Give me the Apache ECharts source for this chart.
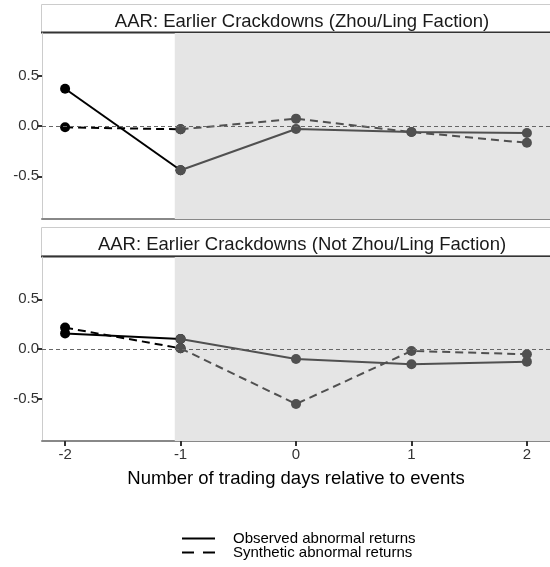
<!DOCTYPE html>
<html>
<head>
<meta charset="utf-8">
<title>AAR earlier crackdowns</title>
<script src="https://cdn.jsdelivr.net/npm/echarts@6/dist/echarts.min.js"></script>
<style>
  html, body { margin: 0; padding: 0; background: #fff; }
  #main { width: 550px; height: 567px; }
</style>
</head>
<body>
<div id="main"></div>
<script>
// days relative to event
var days = [-2, -1, 0, 1, 2];
var xTicks = [-2, -1, 0, 1, 2];
var yTicks = [-0.5, 0, 0.5];
var panelTitles = ['AAR: Earlier Crackdowns (Zhou/Ling Faction)', 'AAR: Earlier Crackdowns (Not Zhou/Ling Faction)'];

// panel 1: Zhou/Ling faction
var obsZhou = [0.37, -0.44, -0.03, -0.06, -0.07];
var synZhou = [-0.013, -0.033, 0.073, -0.06, -0.167];
// panel 2: not Zhou/Ling faction
var obsNot = [0.157, 0.10, -0.10, -0.153, -0.127];
var synNot = [0.215, 0.007, -0.553, -0.02, -0.053];

var shadeFrom = -1.05;
var legendNames = ['Observed abnormal returns', 'Synthetic abnormal returns'];

var font = 'Liberation Sans, Arial, sans-serif';
var grey = '#505050';
var dash = [8, 5];

function pairs(xs, ys, a, b) {
  var out = [];
  for (var i = a; i <= b; i++) out.push([xs[i], ys[i]]);
  return out;
}

// one panel = pre-event segment (black) + event window segment (grey)
function panelSeries(idx, obs, syn) {
  var s = [];
  var defs = [[obs, 'solid'], [syn, dash]];
  defs.forEach(function (d) {
    s.push({
      type: 'line', xAxisIndex: idx, yAxisIndex: idx,
      data: pairs(days, d[0], 0, 1),
      symbol: 'circle', symbolSize: 10,
      lineStyle: { color: '#000', width: 2, type: d[1] },
      itemStyle: { color: '#000' },
      z: 3, silent: true
    });
    s.push({
      type: 'line', xAxisIndex: idx, yAxisIndex: idx,
      data: pairs(days, d[0], 1, 4),
      symbol: 'circle', symbolSize: 10,
      lineStyle: { color: grey, width: 2, type: d[1] },
      itemStyle: { color: grey },
      z: 4, silent: true
    });
  });
  // shaded event window and zero reference line
  s.push({
    type: 'line', xAxisIndex: idx, yAxisIndex: idx, data: [],
    silent: true,
    markArea: {
      silent: true,
      itemStyle: { color: '#e5e5e5' },
      data: [[{ xAxis: shadeFrom }, { xAxis: 2.2 }]]
    },
    markLine: {
      silent: true, symbol: 'none', label: { show: false },
      lineStyle: { color: '#666', type: [4, 3], width: 1 },
      data: [{ yAxis: 0 }]
    },
    z: 1
  });
  return s;
}

var series = [].concat(panelSeries(0, obsZhou, synZhou), panelSeries(1, obsNot, synNot));
// legend-only series
series.push({ name: legendNames[0], type: 'line', xAxisIndex: 1, yAxisIndex: 1, data: [], symbol: 'none',
  lineStyle: { color: '#000' }, itemStyle: { color: '#000' } });
series.push({ name: legendNames[1], type: 'line', xAxisIndex: 1, yAxisIndex: 1, data: [], symbol: 'none',
  lineStyle: { color: '#000' }, itemStyle: { color: '#000' } });

function xAxis(idx, labels) {
  return {
    type: 'value', gridIndex: idx, min: -2.2, max: 2.2,
    axisLine: { show: true, onZero: false, lineStyle: { color: '#888', width: 2 } },
    axisTick: { show: labels, length: 5, customValues: xTicks, lineStyle: { color: '#333', width: 2 } },
    axisLabel: { show: labels, customValues: xTicks, color: '#333', fontSize: 15, fontFamily: font, margin: 6 },
    splitLine: { show: false },
    name: labels ? 'Number of trading days relative to events' : '',
    nameLocation: 'middle', nameGap: 28,
    nameTextStyle: { color: '#000', fontSize: 18.5, fontFamily: font }
  };
}

function yAxis(idx) {
  return {
    type: 'value', gridIndex: idx, min: -0.925, max: 0.925,
    axisLine: { show: true, onZero: false, lineStyle: { color: '#ccc', width: 1 } },
    axisTick: { show: true, length: 5, customValues: yTicks, lineStyle: { color: '#333', width: 2 } },
    axisLabel: {
      customValues: yTicks, color: '#333', fontSize: 15, fontFamily: font, margin: 3,
      formatter: function (v) { return v.toFixed(1); }
    },
    splitLine: { show: false }
  };
}

var legendText = { fontSize: 15, color: '#000', fontFamily: font, padding: [0, 0, 0, 13] };
var solidIcon = 'path://M0,0H33V2H0Z';
var dashIcon = 'path://M0,0H12V2H0Z M21,0H33V2H21Z';

var chart = echarts.init(document.getElementById('main'));
chart.setOption({
  animation: false,
  backgroundColor: '#fff',
  title: [
    { text: panelTitles[0], left: 297, top: 7, textAlign: 'center',
      textStyle: { fontSize: 18.5, fontWeight: 'normal', color: '#1a1a1a', fontFamily: font } },
    { text: panelTitles[1], left: 297, top: 230, textAlign: 'center',
      textStyle: { fontSize: 18.5, fontWeight: 'normal', color: '#1a1a1a', fontFamily: font } }
  ],
  graphic: [
    { type: 'rect', shape: { x: 41.5, y: 4.5, width: 520, height: 28 },
      style: { fill: '#fff', stroke: '#ccc', lineWidth: 1 }, z: -1 },
    { type: 'line', shape: { x1: 41, y1: 32.5, x2: 550, y2: 32.5 }, style: { stroke: '#333', lineWidth: 2 } },
    { type: 'rect', shape: { x: 41.5, y: 227.5, width: 520, height: 28 },
      style: { fill: '#fff', stroke: '#ccc', lineWidth: 1 }, z: -1 },
    { type: 'line', shape: { x1: 41, y1: 256.5, x2: 550, y2: 256.5 }, style: { stroke: '#333', lineWidth: 2 } }
  ],
  legend: [
    { data: [{ name: legendNames[0], icon: solidIcon }], left: 177, top: 526,
      itemWidth: 33, itemHeight: 2, textStyle: legendText, selectedMode: false },
    { data: [{ name: legendNames[1], icon: dashIcon }], left: 177, top: 540,
      itemWidth: 33, itemHeight: 2, textStyle: legendText, selectedMode: false }
  ],
  grid: [
    { left: 42, right: 0, top: 33, height: 186 },
    { left: 42, right: 0, top: 257, height: 184 }
  ],
  xAxis: [xAxis(0, false), xAxis(1, true)],
  yAxis: [yAxis(0), yAxis(1)],
  series: series
});
</script>
</body>
</html>
